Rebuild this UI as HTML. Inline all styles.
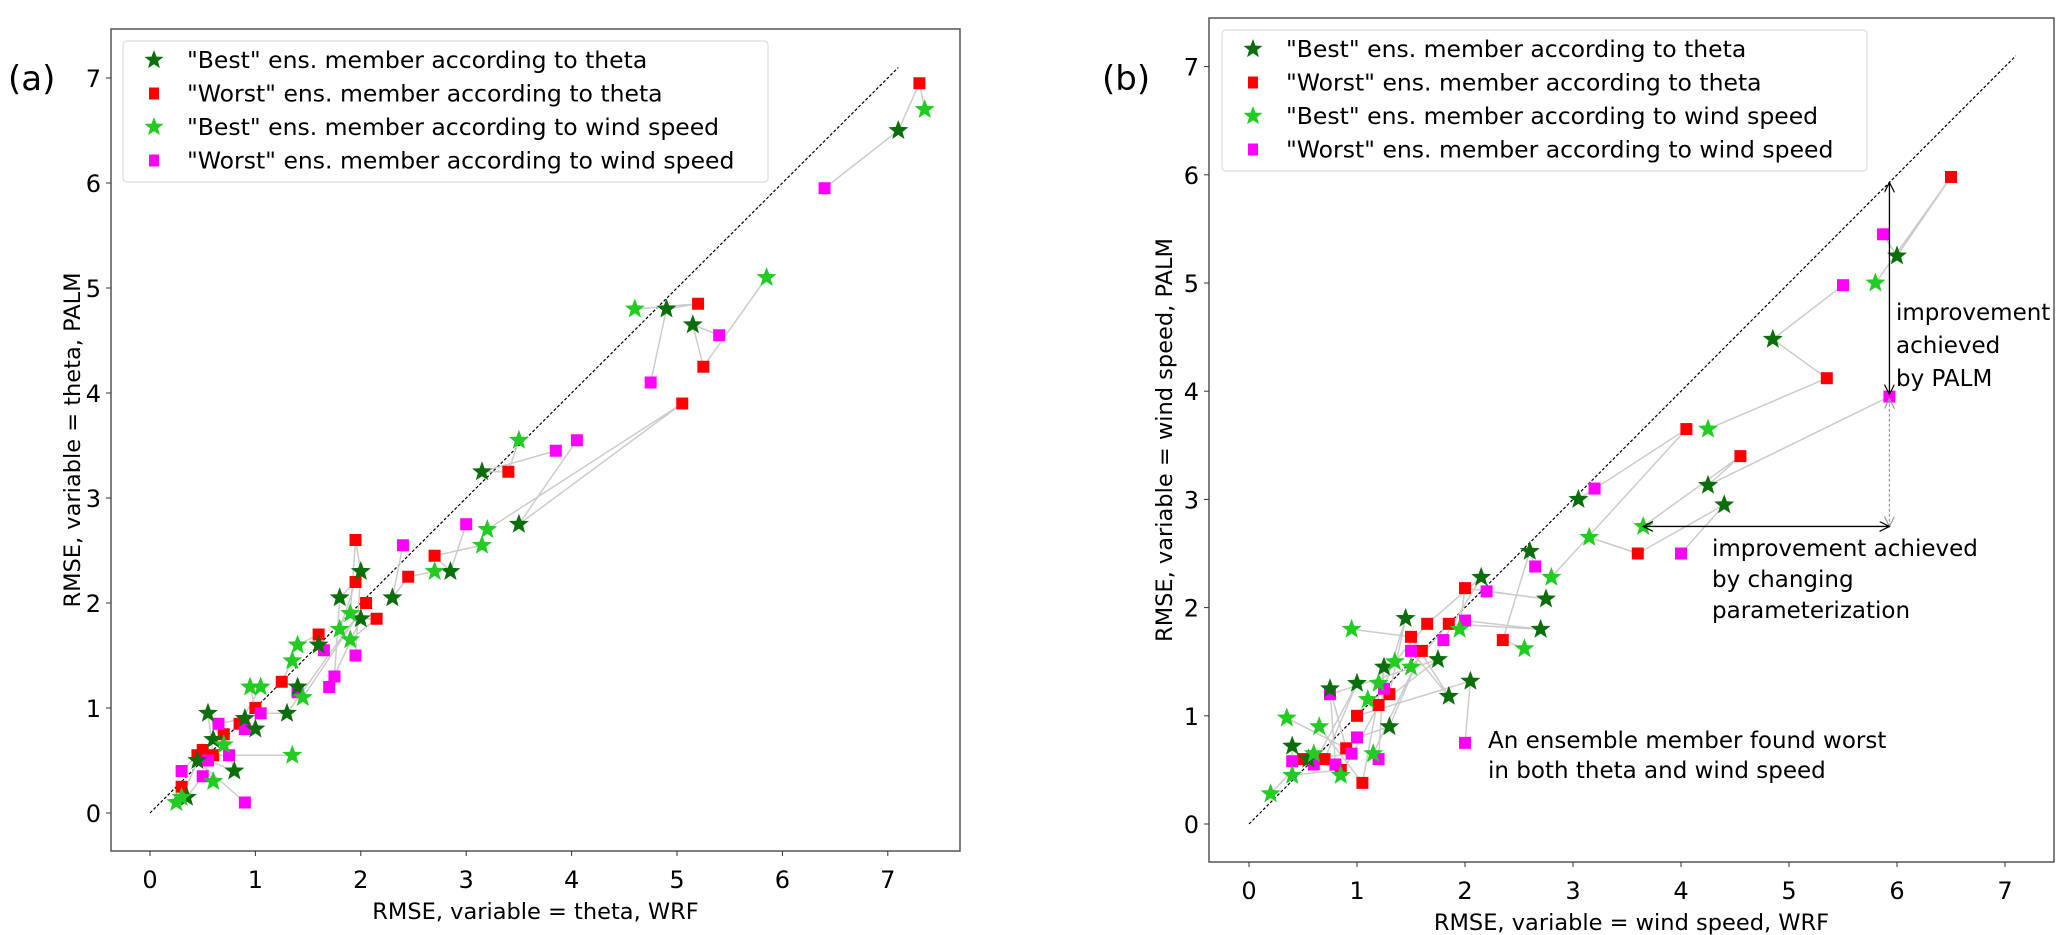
<!DOCTYPE html>
<html><head><meta charset="utf-8"><style>
body{margin:0;background:#fff;width:2067px;height:935px;overflow:hidden}
svg{display:block;font-family:"DejaVu Sans","Liberation Sans",sans-serif}
</style></head><body>
<svg id="fig" width="2067" height="935"></svg>
<script>
// Panel (a) data: per ensemble case [wrf, palm]
const aBestTheta=[[7.1,6.5],[4.9,4.8],[5.15,4.65],[3.5,2.75],[3.15,3.25],[2.85,2.3],[2.3,2.05],[2.0,2.3],[1.8,2.05],[2.0,1.85],[1.6,1.6],[1.4,1.2],[1.3,0.95],[1.0,0.8],[0.9,0.9],[0.55,0.95],[0.8,0.4],[0.45,0.5],[0.6,0.7],[0.35,0.15]];
const aWorstTheta=[[7.3,6.95],[5.2,4.85],[5.25,4.25],[5.05,3.9],[3.4,3.25],[2.7,2.45],[2.45,2.25],[1.95,2.6],[1.95,2.2],[2.15,1.85],[1.6,1.7],[1.25,1.25],[2.05,2.0],[0.85,0.85],[1.0,1.0],[0.6,0.55],[0.7,0.75],[0.45,0.55],[0.5,0.6],[0.3,0.25]];
const aBestWind=[[7.35,6.7],[4.6,4.8],[5.85,5.1],[3.2,2.7],[3.5,3.55],[3.15,2.55],[2.7,2.3],[1.9,1.9],[1.8,1.75],[1.9,1.65],[1.4,1.6],[1.35,1.45],[1.45,1.1],[1.05,1.2],[0.95,1.2],[1.35,0.55],[0.7,0.65],[0.6,0.3],[0.3,0.15],[0.25,0.1]];
const aWorstWind=[[6.4,5.95],[4.75,4.1],[5.4,4.55],[4.05,3.55],[3.85,3.45],[3.0,2.75],[2.4,2.55],[1.95,1.5],[1.75,1.3],[1.7,1.2],[1.65,1.55],[1.4,1.15],[1.05,0.95],[0.9,0.8],[0.65,0.85],[0.75,0.55],[0.55,0.5],[0.9,0.1],[0.3,0.4],[0.5,0.35]];
// Panel (b) data
const bBestTheta=[[6.0,5.25],[4.85,4.48],[4.25,3.13],[4.4,2.95],[3.05,3.0],[2.6,2.52],[2.75,2.08],[2.7,1.8],[2.15,2.28],[2.05,1.32],[1.85,1.18],[1.45,1.9],[1.75,1.52],[1.25,1.45],[1.3,0.9],[0.75,1.25],[1.0,1.3],[0.4,0.72],[0.55,0.6]];
const bWorstTheta=[[6.5,5.98],[5.35,4.12],[4.55,3.4],[3.6,2.5],[4.05,3.65],[2.35,1.7],[2.0,2.18],[1.85,1.85],[1.65,1.85],[1.0,1.0],[1.5,1.73],[1.3,1.2],[1.2,1.1],[1.05,0.38],[1.6,1.6],[0.9,0.7],[0.7,0.6],[0.5,0.6],[0.85,0.5]];
const bBestWind=[[5.8,5.0],[4.25,3.65],[3.65,2.75],[3.15,2.65],[2.8,2.28],[2.55,1.62],[1.95,1.8],[1.5,1.45],[1.35,1.5],[1.1,1.15],[0.95,1.8],[1.2,1.3],[0.85,0.45],[0.65,0.9],[1.15,0.65],[0.35,0.98],[0.6,0.65],[0.2,0.28],[0.4,0.45]];
const bWorstWind=[[5.87,5.45],[5.5,4.98],[5.93,3.95],[4.0,2.5],[3.2,3.1],[2.65,2.38],[2.2,2.15],[2.0,1.88],[1.8,1.7],[2.0,0.75],[1.5,1.6],[1.25,1.25],[0.75,1.2],[1.2,0.6],[1.0,0.8],[0.8,0.55],[0.6,0.55],[0.4,0.58],[0.95,0.65]];
const ticks=[0,1,2,3,4,5,6,7];

const NS="http://www.w3.org/2000/svg";
const svg=document.getElementById('fig');
function mk(tag,attrs,parent,txt){const e=document.createElementNS(NS,tag);for(const k in attrs)e.setAttribute(k,attrs[k]);if(txt!==undefined)e.textContent=txt;(parent||svg).appendChild(e);return e;}
function starPts(cx,cy,r){let p=[];for(let i=0;i<10;i++){const rr=i%2?r*0.42:r;const a=-Math.PI/2+i*Math.PI/5;p.push((cx+rr*Math.cos(a)).toFixed(1)+','+(cy+rr*Math.sin(a)).toFixed(1));}return p.join(' ');}

function panel(cfg){
  const g=mk('g',{});
  
  
  const X=v=>cfg.x0+v*cfg.ux, Y=v=>cfg.y0-v*cfg.uy;
  const fr=mk('rect',{x:cfg.L,y:cfg.T,width:cfg.R-cfg.L,height:cfg.B-cfg.T,fill:'none',stroke:'#555','stroke-width':1.5},g);
  
  ticks.forEach(t=>{
    mk('line',{x1:X(t),x2:X(t),y1:cfg.B,y2:cfg.B+5,stroke:'#333'},g);
    const tx=mk('text',{x:X(t),y:cfg.B+37,'text-anchor':'middle','font-size':24},g,String(t));
    
    mk('line',{x1:cfg.L-5,x2:cfg.L,y1:Y(t),y2:Y(t),stroke:'#333'},g);
    const ty=mk('text',{x:cfg.L-10,y:Y(t)+9,'text-anchor':'end','font-size':24},g,String(t));
    
  });
  const xl=mk('text',{x:(cfg.L+cfg.R)/2,y:cfg.B+68,'text-anchor':'middle','font-size':22.5},g,cfg.xlabel);
  
  const yc=(cfg.T+cfg.B)/2;
  const yl=mk('text',{x:cfg.ylx,y:yc,'text-anchor':'middle','font-size':22.5,transform:`rotate(-90 ${cfg.ylx} ${yc})`},g,cfg.ylabel);
  
  const pl=mk('text',{x:cfg.plx,y:90,'font-size':34},g,cfg.plabel);
  
  const d=mk('line',{x1:X(0),y1:Y(0),x2:X(7.1),y2:Y(7.1),stroke:'#000','stroke-width':1.2,'stroke-dasharray':'3,2'},g);
  
  const S=cfg.series;
  for(let i=0;i<S[0].length;i++){
    const pts=[S[3][i],S[0][i],S[1][i],S[2][i]].map(p=>X(p[0])+','+Y(p[1])).join(' ');
    const l=mk('polyline',{points:pts,fill:'none',stroke:'#ccc','stroke-width':1.5},g);
    
  }
  const styles=[['star','#0a6e0a','best-theta-marker'],['sq','#ff0000','worst-theta-marker'],['star','#22cc22','best-wind-marker'],['sq','#ff00ff','worst-wind-marker']];
  [1,3,0,2].forEach(si=>{
    const [shape,col,nm]=styles[si];
    S[si].forEach(p=>{
      let m;
      if(shape==='star')m=mk('polygon',{points:starPts(X(p[0]),Y(p[1]),10.5),fill:col},g);
      else m=mk('rect',{x:X(p[0])-6,y:Y(p[1])-6,width:12,height:12,fill:col},g);
      
      
    });
  });
  const lg=mk('g',{},g);
  
  mk('rect',{x:cfg.lgx,y:cfg.lgy,width:645,height:141,rx:4,fill:'#fff',stroke:'#ddd','stroke-width':1.2},lg);
  const labs=['"Best" ens. member according to theta','"Worst" ens. member according to theta','"Best" ens. member according to wind speed','"Worst" ens. member according to wind speed'];
  labs.forEach((t,i)=>{
    const yy=cfg.lgy+19+i*33.5;const mx=cfg.lgx+31;
    let m;
    if(i%2===0)m=mk('polygon',{points:starPts(mx,yy,10),fill:styles[i][1]},lg);
    else m=mk('rect',{x:mx-5,y:yy-6,width:10,height:12,fill:styles[i][1]},lg);
    
    const tx=mk('text',{x:cfg.lgx+64,y:yy+8,'font-size':23.5},lg,t);
    
  });
  return {g,X,Y};
}

panel({name:'panel-a',L:111,R:960,T:29,B:851,x0:150,ux:105.4,y0:813,uy:105,xlabel:'RMSE, variable = theta, WRF',ylabel:'RMSE, variable = theta, PALM',ylx:80,plx:8,plabel:'(a)',lgx:123,lgy:41,series:[aBestTheta,aWorstTheta,aBestWind,aWorstWind]});
const pb=panel({name:'panel-b',L:1209,R:2054,T:18,B:862,x0:1249,ux:108,y0:824,uy:108.2,xlabel:'RMSE, variable = wind speed, WRF',ylabel:'RMSE, variable = wind speed, PALM',ylx:1172,plx:1102,plabel:'(b)',lgx:1222,lgy:30,series:[bBestTheta,bWorstTheta,bBestWind,bWorstWind]});

const X=pb.X,Y=pb.Y,ag=mk('g',{});

mk('defs',{},ag).innerHTML='<marker id="ah" markerWidth="12" markerHeight="12" refX="10" refY="5" orient="auto-start-reverse" markerUnits="userSpaceOnUse"><path d="M0,0 L10,5 L0,10" fill="none" stroke="#000" stroke-width="1.2"/></marker><marker id="ahg" markerWidth="12" markerHeight="12" refX="10" refY="5" orient="auto-start-reverse" markerUnits="userSpaceOnUse"><path d="M0,0 L10,5 L0,10" fill="none" stroke="#999" stroke-width="1.2"/></marker>';
mk('line',{x1:X(5.93),y1:Y(5.93),x2:X(5.93),y2:Y(3.97),stroke:'#000','stroke-width':1.3,'marker-start':'url(#ah)','marker-end':'url(#ah)'},ag);
mk('line',{x1:X(5.93),y1:Y(3.93),x2:X(5.93),y2:Y(2.75),stroke:'#999','stroke-width':1.2,'stroke-dasharray':'3,2','marker-start':'url(#ahg)','marker-end':'url(#ahg)'},ag);
mk('line',{x1:X(3.65),y1:Y(2.75),x2:X(5.93),y2:Y(2.75),stroke:'#000','stroke-width':1.3,'marker-start':'url(#ah)','marker-end':'url(#ah)'},ag);
[['improvement',1896,320],['achieved',1896,353],['by PALM',1896,386],['improvement achieved',1712,556],['by changing',1712,587],['parameterization',1712,618],['An ensemble member found worst',1488,748],['in both theta and wind speed',1488,778]].forEach(a=>{
  const t=mk('text',{x:a[1],y:a[2],'font-size':23},ag,a[0]);
  
  
});
</script>
</body></html>
